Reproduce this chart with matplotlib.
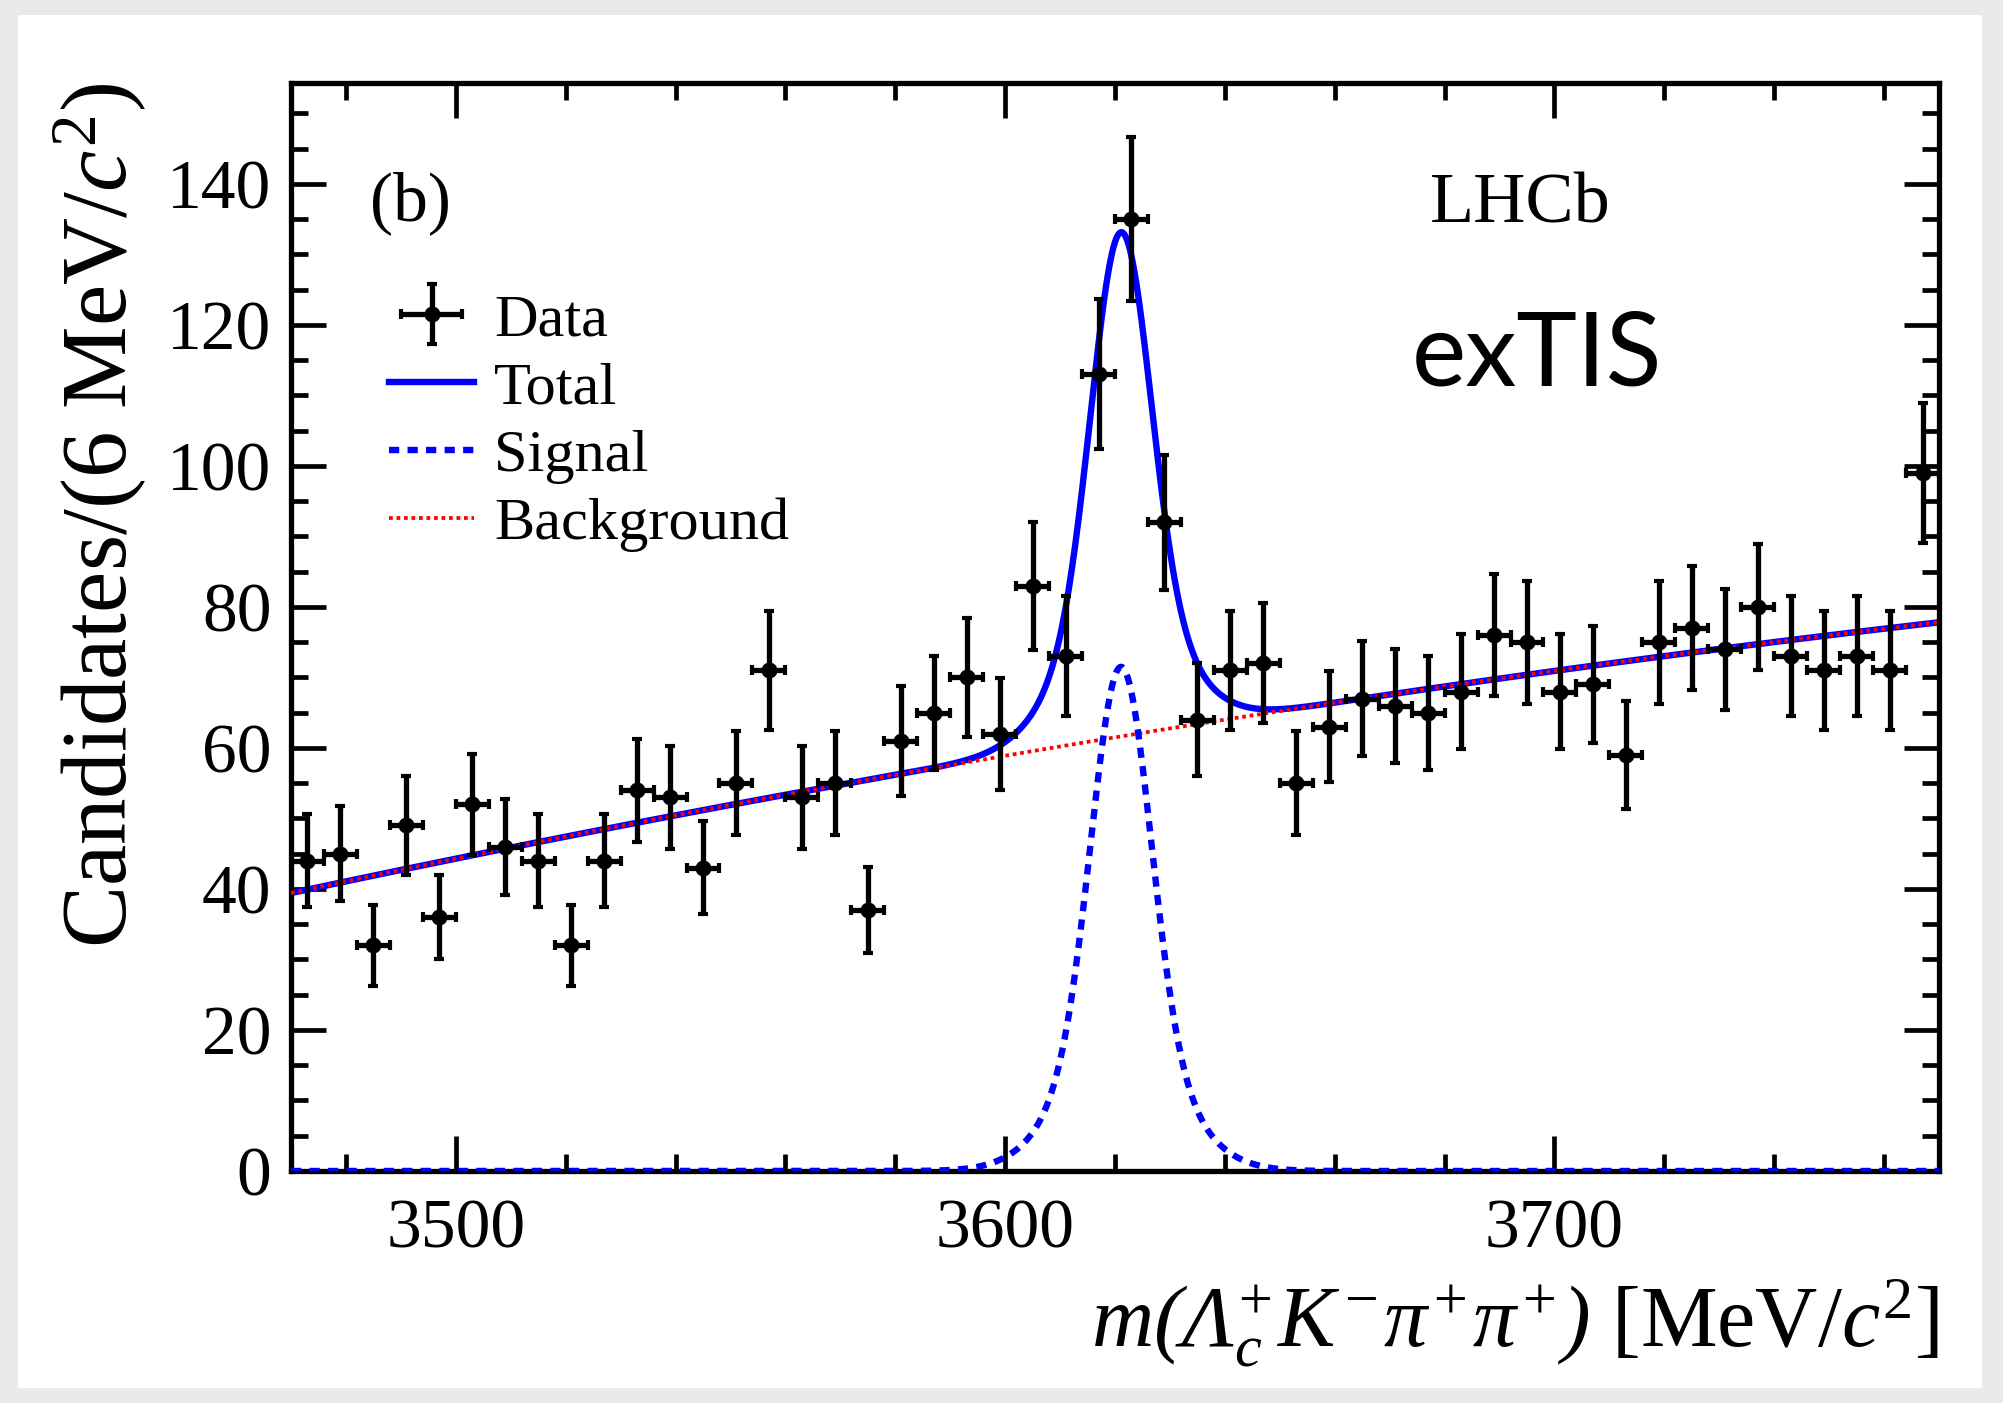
import numpy as np
import matplotlib.pyplot as plt
from matplotlib.patches import Rectangle
from matplotlib.ticker import MultipleLocator

plt.rcParams['font.family'] = ['Liberation Serif', 'DejaVu Serif']
# italic serif for the math symbols (Greek capitals are taken from "rm")
plt.rcParams['mathtext.fontset'] = 'custom'
plt.rcParams['mathtext.rm'] = 'Liberation Serif:italic'
plt.rcParams['mathtext.it'] = 'Liberation Serif:italic'
plt.rcParams['mathtext.sf'] = 'Liberation Serif'

# histogram binning: 6 MeV bins from 3470 to 3770
bin_edges = np.arange(3470, 3771, 6)
bin_centers = 0.5 * (bin_edges[:-1] + bin_edges[1:])

# candidates per bin
counts = [44, 45, 32, 49, 36, 52, 46, 44, 32, 44,
          54, 53, 43, 55, 71, 53, 55, 37, 61, 65,
          70, 62, 83, 73, 113, 135, 92, 64, 71, 72,
          55, 63, 67, 66, 65, 68, 76, 75, 68, 69,
          59, 75, 77, 74, 80, 73, 71, 73, 71, 99]
errors = [6.6, 6.7, 5.7, 7.0, 6.0, 7.2, 6.8, 6.6, 5.7, 6.6,
          7.3, 7.3, 6.6, 7.4, 8.4, 7.3, 7.4, 6.1, 7.8, 8.1,
          8.4, 7.9, 9.1, 8.5, 10.6, 11.6, 9.6, 8.0, 8.4, 8.5,
          7.4, 7.9, 8.2, 8.1, 8.1, 8.2, 8.7, 8.7, 8.2, 8.3,
          7.7, 8.7, 8.8, 8.6, 8.9, 8.5, 8.4, 8.5, 8.4, 9.9]

# fit model
sig_mean = 3621.1
sig_core_height, sig_core_width = 53.5, 5.3
sig_tail_height, sig_tail_width = 18.0, 10.0
bkg_ref_mass, bkg_ref_level = 3620.0, 61.5
bkg_slope, bkg_curv = 0.128, -0.000128

W, H = 2003, 1403
fig = plt.figure(figsize=(W / 100, H / 100), dpi=100)
fig.patch.set_facecolor('#ebeae8')
fig.add_artist(Rectangle((18 / W, 15 / H), (1982 - 18) / W, (1388 - 15) / H,
                         transform=fig.transFigure, facecolor='white',
                         edgecolor='none', zorder=0))

ax = fig.add_axes([291 / W, 1 - 1171 / H, 1648 / W, 1088 / H])
ax.set_facecolor('white')

grid = np.linspace(3470, 3770, 1501)
d = grid - sig_mean
signal = (sig_core_height * np.exp(-0.5 * (d / sig_core_width) ** 2)
          + sig_tail_height * np.exp(-0.5 * (d / sig_tail_width) ** 2))
dm = grid - bkg_ref_mass
background = bkg_ref_level + bkg_slope * dm + bkg_curv * dm ** 2
total = background + signal

l_tot, = ax.plot(grid, total, color='#0000ff', lw=4.6, zorder=2)
l_bkg, = ax.plot(grid, background, color='#ff0000', lw=2.7,
                 ls=(0, (1.0, 1.0)), zorder=3)
l_sig, = ax.plot(grid, signal, color='#0000ff', lw=4.6,
                 ls=(0, (1.6, 1.3)), zorder=3)
data = ax.errorbar(bin_centers, counts, yerr=errors, xerr=3, fmt='o',
                   color='black', ms=10.5, elinewidth=3.8, capsize=3.5,
                   capthick=3.0, zorder=5)

ax.set_xlim(3470, 3770)
ax.set_ylim(0, 154.3)
ax.xaxis.set_major_locator(MultipleLocator(100))
ax.xaxis.set_minor_locator(MultipleLocator(20))
ax.yaxis.set_major_locator(MultipleLocator(20))
ax.yaxis.set_minor_locator(MultipleLocator(5))
ax.tick_params(which='both', direction='in', top=True, right=True, width=3.4)
ax.tick_params(which='major', length=25)
ax.tick_params(which='minor', length=12.5)
ax.tick_params(axis='x', labelsize=50, pad=20)
ax.tick_params(axis='y', labelsize=50, pad=14)
for s in ax.spines.values():
    s.set_linewidth(3.8)

ax.text(-0.0995, 1.0, r'Candidates/(6 MeV/$c^{\mathsf{2}}$)',
        transform=ax.transAxes, rotation=90, rotation_mode='anchor',
        ha='right', va='baseline', fontsize=67)
ax.text(1.0, -0.161,
        r'$m(\Lambda_{c}^{+}K^{-}\pi^{+}\pi^{+})$ [MeV/$c^{\mathsf{2}}$]',
        transform=ax.transAxes, ha='right', va='baseline', fontsize=62)

ax.text(0.048, 0.89, '(b)', transform=ax.transAxes, ha='left', va='center',
        fontsize=50)
ax.text(0.691, 0.872, 'LHCb', transform=ax.transAxes, ha='left',
        va='baseline', fontsize=52)
ax.text(0.680, 0.722, 'exTIS', transform=ax.transAxes, ha='left',
        va='baseline', fontsize=74, family='Lato')

ax.legend([data, l_tot, l_sig, l_bkg],
          ['Data', 'Total', 'Signal', 'Background'],
          loc='upper left', bbox_to_anchor=(0.0595, 0.807), frameon=False,
          fontsize=43.5, handlelength=1.41, handletextpad=0.33,
          labelspacing=0.21, borderpad=0, borderaxespad=0)

fig.savefig('out.png', dpi=100, facecolor=fig.get_facecolor())
